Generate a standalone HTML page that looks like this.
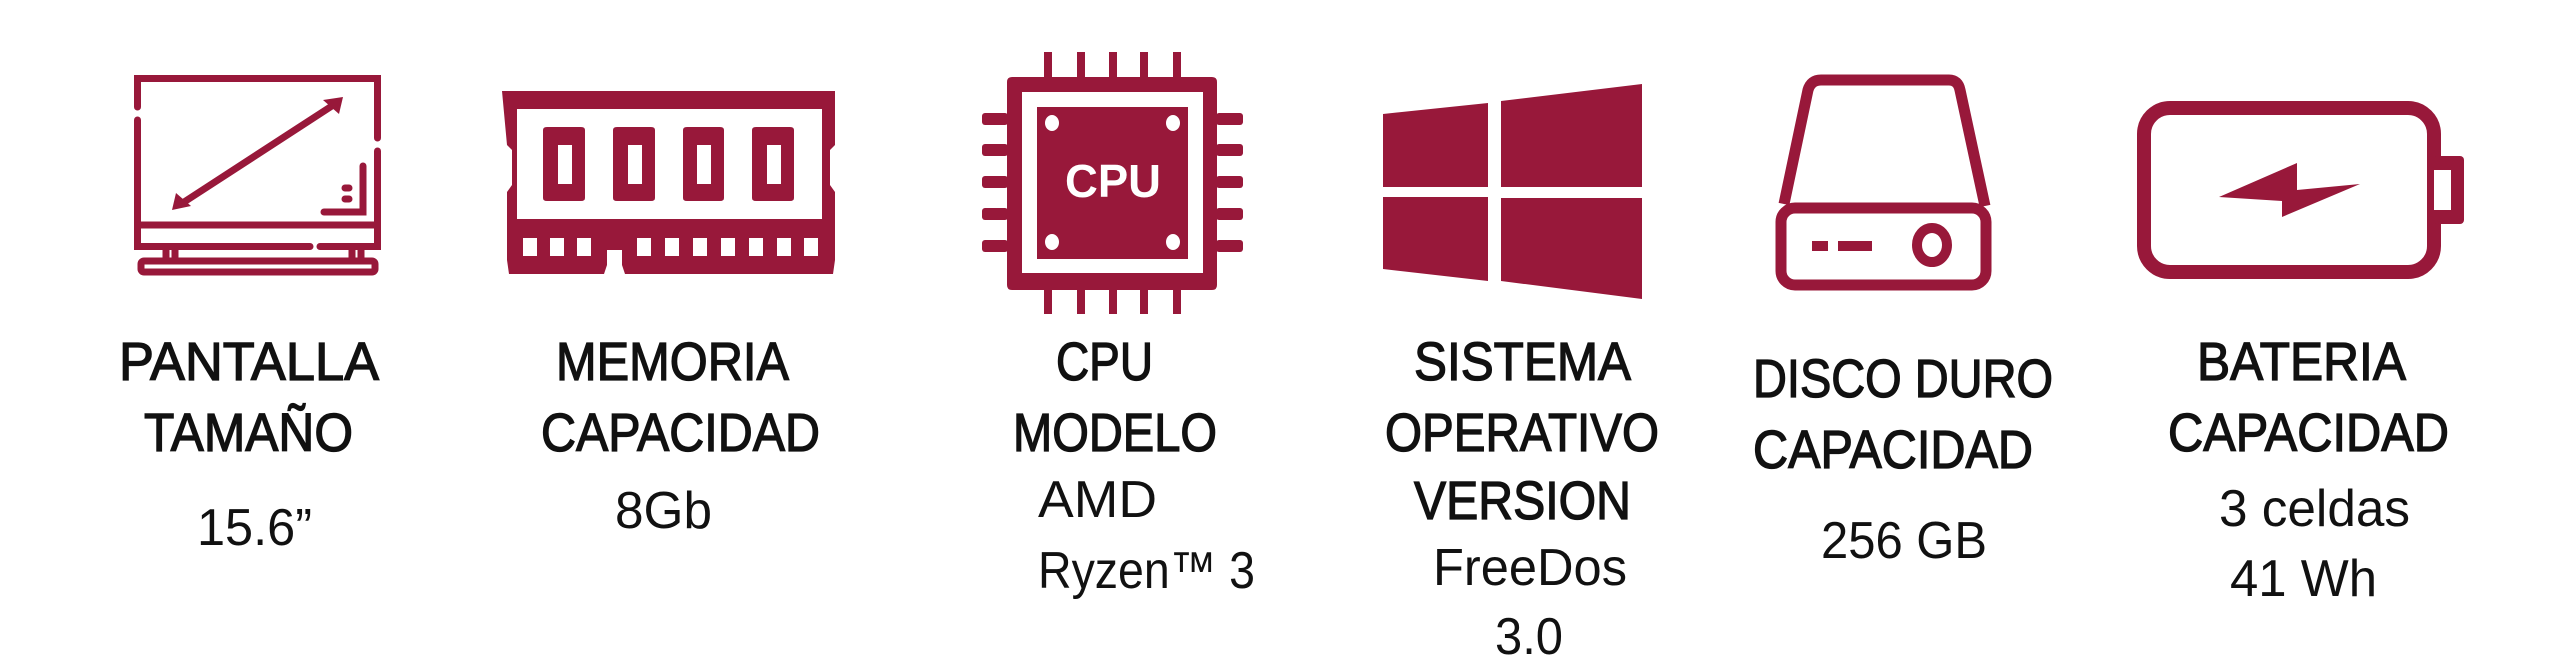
<!DOCTYPE html>
<html><head><meta charset="utf-8"><style>
html,body{margin:0;padding:0;background:#fff;width:2560px;height:667px;overflow:hidden}
svg{display:block}
.l{font-family:"Liberation Sans",sans-serif;font-weight:normal;font-size:54px;fill:#111;stroke:#111;stroke-width:1.3}
.v{font-family:"Liberation Sans",sans-serif;font-size:52px;fill:#111}
</style></head><body>
<svg width="2560" height="667" viewBox="0 0 2560 667" xmlns="http://www.w3.org/2000/svg">
<g fill="#98183a" stroke="none">
<g fill="none" stroke="#98183a" stroke-width="7" stroke-linecap="round">
<path d="M137.5 107 V78.5 H377.5 V138"/>
<path d="M137.5 120 V246.5 H310"/>
<path d="M320 246.5 H377.5 V151"/>
<line x1="137.5" y1="225" x2="377.5" y2="225"/>
<line x1="181" y1="204" x2="338" y2="102"/>
<path d="M363 166 V212 H324"/>
<rect x="141" y="261" width="234" height="11" rx="3"/>
<line x1="166" y1="250" x2="166" y2="259"/><line x1="175" y1="250" x2="175" y2="259"/>
<line x1="352" y1="250" x2="352" y2="259"/><line x1="361" y1="250" x2="361" y2="259"/>
<line x1="345" y1="188" x2="349" y2="188"/><line x1="345" y1="199" x2="349" y2="199"/>
</g>
<polygon points="343,97 323,100 339,114"/>
<polygon points="172,210 176,193 191,206"/>
<path fill-rule="evenodd" d="M502 91 H835 V145 L830 150 V185 L835 192 V260 L833 274 H625 L622 265 V250 H607 V265 L604 274 H509 L507 260 V192 L512 185 V150 L507 145 Z M517 109 V219 H822 V109 Z"/>
<g fill="#fff">
<rect x="523" y="238" width="14" height="18"/><rect x="550" y="238" width="14" height="18"/><rect x="577" y="238" width="14" height="18"/>
<rect x="637" y="238" width="14" height="18"/><rect x="665" y="238" width="14" height="18"/><rect x="693" y="238" width="14" height="18"/><rect x="721" y="238" width="14" height="18"/><rect x="749" y="238" width="14" height="18"/><rect x="777" y="238" width="14" height="18"/><rect x="804" y="238" width="14" height="18"/>
</g>
<g fill-rule="evenodd">
<path d="M543 130 Q543 127 547 127 H581 Q585 127 585 130 V198 Q585 201 581 201 H547 Q543 201 543 198 Z M558 145 V184 H572 V145 Z"/>
<path d="M613 130 Q613 127 617 127 H651 Q655 127 655 130 V198 Q655 201 651 201 H617 Q613 201 613 198 Z M628 145 V184 H642 V145 Z"/>
<path d="M683 130 Q683 127 687 127 H720 Q724 127 724 130 V198 Q724 201 720 201 H687 Q683 201 683 198 Z M697 145 V184 H711 V145 Z"/>
<path d="M752 130 Q752 127 756 127 H790 Q794 127 794 130 V198 Q794 201 790 201 H756 Q752 201 752 198 Z M767 145 V184 H781 V145 Z"/>
</g>
<path fill-rule="evenodd" d="M1012 77 H1212 Q1217 77 1217 82 V285 Q1217 290 1212 290 H1012 Q1007 290 1007 285 V82 Q1007 77 1012 77 Z M1022 92 V273 H1203 V92 Z"/>
<rect x="1037" y="107" width="151" height="152"/>
<g>
<rect x="1044" y="52" width="8" height="26"/><rect x="1077" y="52" width="8" height="26"/><rect x="1109" y="52" width="8" height="26"/><rect x="1140" y="52" width="8" height="26"/><rect x="1173" y="52" width="8" height="26"/>
<rect x="1044" y="289" width="8" height="25"/><rect x="1077" y="289" width="8" height="25"/><rect x="1109" y="289" width="8" height="25"/><rect x="1140" y="289" width="8" height="25"/><rect x="1173" y="289" width="8" height="25"/>
<rect x="982" y="113" width="26" height="12" rx="3"/><rect x="982" y="144" width="26" height="12" rx="3"/><rect x="982" y="176" width="26" height="12" rx="3"/><rect x="982" y="208" width="26" height="12" rx="3"/><rect x="982" y="240" width="26" height="12" rx="3"/>
<rect x="1216" y="113" width="27" height="12" rx="3"/><rect x="1216" y="144" width="27" height="12" rx="3"/><rect x="1216" y="176" width="27" height="12" rx="3"/><rect x="1216" y="208" width="27" height="12" rx="3"/><rect x="1216" y="240" width="27" height="12" rx="3"/>
</g>
<g fill="#fff"><ellipse cx="1052" cy="123" rx="7" ry="8"/><ellipse cx="1173" cy="123" rx="7" ry="8"/><ellipse cx="1052" cy="242" rx="7" ry="8"/><ellipse cx="1173" cy="242" rx="7" ry="8"/></g>
<text x="1113" y="197" fill="#fff" font-family="Liberation Sans,sans-serif" font-weight="bold" font-size="46" text-anchor="middle" textLength="96" lengthAdjust="spacingAndGlyphs">CPU</text>
<polygon points="1383,114 1488,103 1488,187 1383,187"/>
<polygon points="1501,101 1642,84 1642,187 1501,187"/>
<polygon points="1383,197 1488,197 1488,281 1383,269"/>
<polygon points="1501,198 1642,198 1642,299 1501,281"/>
<g fill="none" stroke="#98183a" stroke-width="11" stroke-linejoin="round">
<path d="M1784 204 L1808 90 Q1811 80 1821 80 H1949 Q1958 80 1960 90 L1985 206"/>
<rect x="1781" y="208" width="205" height="77" rx="14"/>
</g>
<rect x="1812" y="241" width="16" height="10"/><rect x="1838" y="241" width="34" height="10"/>
<ellipse cx="1932" cy="245" rx="15" ry="17" fill="none" stroke="#98183a" stroke-width="10"/>
<rect x="2144" y="108" width="290" height="164" rx="26" fill="none" stroke="#98183a" stroke-width="14"/>
<rect x="2433" y="156" width="31" height="68" rx="4"/>
<rect x="2434" y="170" width="17" height="40" fill="#fff"/>
<polygon points="2219,197 2297,163 2297,190 2360,184 2282,217 2282,201"/>
</g>
<text class="l" x="119" y="380" textLength="260" lengthAdjust="spacingAndGlyphs">PANTALLA</text>
<text class="l" x="144" y="451" textLength="209" lengthAdjust="spacingAndGlyphs">TAMAÑO</text>
<text class="v" x="197" y="545" textLength="115" lengthAdjust="spacingAndGlyphs">15.6”</text>
<text class="l" x="556" y="380" textLength="233" lengthAdjust="spacingAndGlyphs">MEMORIA</text>
<text class="l" x="541" y="451" textLength="279" lengthAdjust="spacingAndGlyphs">CAPACIDAD</text>
<text class="v" x="615" y="528" textLength="97" lengthAdjust="spacingAndGlyphs">8Gb</text>
<text class="l" x="1056" y="380" textLength="97" lengthAdjust="spacingAndGlyphs">CPU</text>
<text class="l" x="1013" y="451" textLength="204" lengthAdjust="spacingAndGlyphs">MODELO</text>
<text class="v" x="1038" y="517" textLength="119" lengthAdjust="spacingAndGlyphs">AMD</text>
<text class="v" x="1038" y="588" textLength="217" lengthAdjust="spacingAndGlyphs">Ryzen™ 3</text>
<text class="l" x="1414" y="380" textLength="217" lengthAdjust="spacingAndGlyphs">SISTEMA</text>
<text class="l" x="1385" y="451" textLength="274" lengthAdjust="spacingAndGlyphs">OPERATIVO</text>
<text class="l" x="1414" y="519" textLength="217" lengthAdjust="spacingAndGlyphs">VERSION</text>
<text class="v" x="1433" y="585" textLength="194" lengthAdjust="spacingAndGlyphs">FreeDos</text>
<text class="v" x="1495" y="654" textLength="68" lengthAdjust="spacingAndGlyphs">3.0</text>
<text class="l" x="1753" y="397" textLength="300" lengthAdjust="spacingAndGlyphs">DISCO DURO</text>
<text class="l" x="1753" y="468" textLength="280" lengthAdjust="spacingAndGlyphs">CAPACIDAD</text>
<text class="v" x="1821" y="558" textLength="166" lengthAdjust="spacingAndGlyphs">256 GB</text>
<text class="l" x="2197" y="380" textLength="209" lengthAdjust="spacingAndGlyphs">BATERIA</text>
<text class="l" x="2168" y="451" textLength="281" lengthAdjust="spacingAndGlyphs">CAPACIDAD</text>
<text class="v" x="2219" y="526" textLength="191" lengthAdjust="spacingAndGlyphs">3 celdas</text>
<text class="v" x="2230" y="596" textLength="147" lengthAdjust="spacingAndGlyphs">41 Wh</text>
</svg>
</body></html>
